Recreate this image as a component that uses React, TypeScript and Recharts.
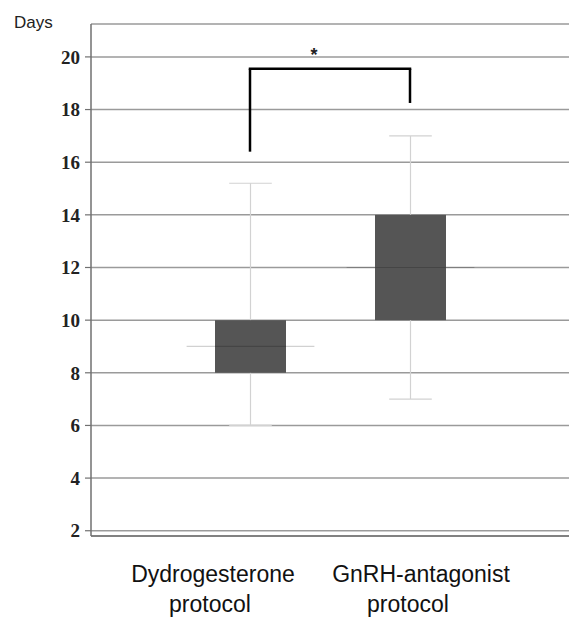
import { ComposedChart, Bar, XAxis, YAxis, CartesianGrid, ReferenceLine } from "recharts";

// box plot values (days)
const GROUPS = ["Dydrogesterone protocol", "GnRH-antagonist protocol"];
const MIN = [6, 7];
const Q1 = [8, 10];
const MEDIAN = [9, 12];
const Q3 = [10, 14];
const MAX = [15.2, 17];
const Y_TICKS = [2, 4, 6, 8, 10, 12, 14, 16, 18, 20];
// significance bracket ends / top
const BRACKET_LEFT = 16.4;
const BRACKET_RIGHT = 18.25;
const BRACKET_TOP = 19.55;

const rows = GROUPS.map((name, i) => ({
  name,
  min: MIN[i],
  q1: Q1[i],
  median: MEDIAN[i],
  q3: Q3[i],
  max: MAX[i],
}));

const BOX = "#555555";
const WHISKER = "#d2d2d2";
const GRID = "#9a9a9a";
const FRAME = "#717171";
const SERIF = "'Liberation Serif', 'Times New Roman', serif";
const SANS = "'Liberation Sans', Arial, sans-serif";

// per label line horizontal nudges, as in the figure
const LABEL_DX = [
  [-37, -40],
  [11, -2],
];

function BoxShape(props: any) {
  const { x, y, width, height, payload } = props;
  if (!payload) return null;
  const top = Math.min(y, y + height);
  const bottom = Math.max(y, y + height);
  const perUnit = (bottom - top) / (payload.q3 - payload.q1);
  const yOf = (v: number) => bottom - (v - payload.q1) * perUnit;
  const cx = x + width / 2;
  const cap = width * 0.3;
  const med = width * 0.9;
  return (
    <g>
      <line x1={cx} x2={cx} y1={yOf(payload.max)} y2={yOf(payload.min)} stroke={WHISKER} strokeWidth={1.2} />
      <line x1={cx - cap} x2={cx + cap} y1={yOf(payload.max)} y2={yOf(payload.max)} stroke={WHISKER} strokeWidth={1.2} />
      <line x1={cx - cap} x2={cx + cap} y1={yOf(payload.min)} y2={yOf(payload.min)} stroke={WHISKER} strokeWidth={1.2} />
      <rect x={x} y={top} width={width} height={bottom - top} fill={BOX} />
      <line
        x1={cx - med}
        x2={cx + med}
        y1={yOf(payload.median)}
        y2={yOf(payload.median)}
        stroke="rgba(0,0,0,0.18)"
        strokeWidth={1.2}
      />
    </g>
  );
}

function GroupTick({ x, y, payload, index }: any) {
  const label: string = payload.value;
  const cut = label.lastIndexOf(" ");
  const lines = [label.slice(0, cut), label.slice(cut + 1)];
  const dx = LABEL_DX[index] ?? [0, 0];
  return (
    <g>
      {lines.map((line, i) => (
        <text
          key={i}
          x={x + dx[i]}
          y={y + 46 + i * 30}
          textAnchor="middle"
          fontFamily={SANS}
          fontSize={23}
          fill="#111"
        >
          {line}
        </text>
      ))}
    </g>
  );
}

export default function App() {
  return (
    <div
      style={{
        position: "absolute",
        left: 0,
        top: 0,
        width: 582,
        height: 619,
        background: "#fff",
        overflow: "hidden",
      }}
    >
      <div
        style={{
          position: "absolute",
          left: 14,
          top: 14,
          fontFamily: SANS,
          fontSize: 17,
          lineHeight: "17px",
          color: "#222",
        }}
      >
        Days
      </div>
      <ComposedChart
        width={582}
        height={619}
        data={rows}
        margin={{ top: 24, right: 13, bottom: 0, left: 0 }}
      >
        <CartesianGrid horizontal vertical={false} stroke={GRID} strokeWidth={1.5} />
        <XAxis
          dataKey="name"
          type="category"
          padding={{ left: 79, right: 79 }}
          height={83}
          tickSize={0}
          tickMargin={0}
          tickLine={false}
          axisLine={{ stroke: FRAME, strokeWidth: 1.5 }}
          tick={<GroupTick />}
          interval={0}
        />
        <XAxis
          xAxisId="top"
          orientation="top"
          dataKey="name"
          type="category"
          height={0}
          tick={false}
          tickLine={false}
          axisLine={{ stroke: FRAME, strokeWidth: 1.5 }}
        />
        <YAxis
          type="number"
          domain={[1.8, 21.25]}
          ticks={Y_TICKS}
          allowDataOverflow
          width={91}
          tickSize={6}
          tickMargin={5}
          tickLine={{ stroke: FRAME, strokeWidth: 1.2 }}
          axisLine={{ stroke: FRAME, strokeWidth: 1.5 }}
          tick={{ fontFamily: SERIF, fontSize: 19, fontWeight: "bold", fill: "#222" }}
        />
        <YAxis
          yAxisId="right"
          orientation="right"
          type="number"
          domain={[0, 1]}
          width={0}
          tick={false}
          tickLine={false}
          axisLine={{ stroke: FRAME, strokeWidth: 1.5 }}
        />
        <Bar
          dataKey={(d: any) => [d.q1, d.q3]}
          barSize={71}
          shape={<BoxShape />}
          isAnimationActive={false}
        />
        <ReferenceLine
          segment={[
            { x: GROUPS[0], y: BRACKET_LEFT },
            { x: GROUPS[0], y: BRACKET_TOP },
          ]}
          stroke="#000"
          strokeWidth={2.5}
          ifOverflow="visible"
        />
        <ReferenceLine
          segment={[
            { x: GROUPS[1], y: BRACKET_RIGHT },
            { x: GROUPS[1], y: BRACKET_TOP },
          ]}
          stroke="#000"
          strokeWidth={2.5}
          ifOverflow="visible"
        />
        <ReferenceLine
          segment={[
            { x: GROUPS[0], y: BRACKET_TOP },
            { x: GROUPS[1], y: BRACKET_TOP },
          ]}
          stroke="#000"
          strokeWidth={2.5}
          strokeLinecap="square"
          ifOverflow="visible"
          label={{
            value: "*",
            position: "top",
            offset: 8,
            dx: -16,
            fontFamily: SANS,
            fontSize: 18,
            fontWeight: "bold",
            fill: "#222",
          }}
        />
      </ComposedChart>
    </div>
  );
}
